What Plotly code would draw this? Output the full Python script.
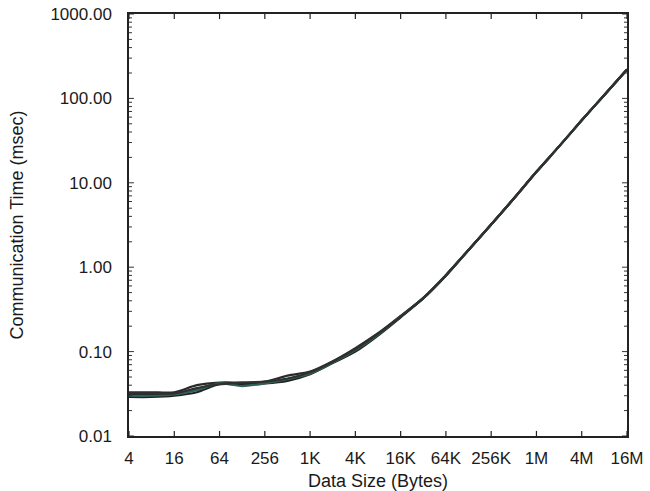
import plotly.graph_objects as go

# Message sizes in bytes (powers of two from 4 B to 16 MB)
sizes = [4, 8, 16, 32, 64, 128, 256, 512, 1024, 2048, 4096, 8192, 16384,
         32768, 65536, 131072, 262144, 524288, 1048576, 2097152, 4194304,
         8388608, 16777216]

# Measured communication times (msec) for several runs
run_a = [0.031, 0.031, 0.031, 0.036, 0.042, 0.042, 0.043, 0.047, 0.056, 0.075,
         0.105, 0.160, 0.26, 0.43, 0.80, 1.6, 3.2, 6.5, 13.5, 27, 55, 110, 220]
run_b = [0.033, 0.033, 0.033, 0.040, 0.043, 0.043, 0.044, 0.052, 0.058, 0.077,
         0.110, 0.165, 0.265, 0.435, 0.81, 1.6, 3.2, 6.5, 13.5, 27, 55, 110, 220]
run_c = [0.029, 0.029, 0.030, 0.033, 0.041, 0.041, 0.042, 0.045, 0.054, 0.073,
         0.100, 0.155, 0.255, 0.425, 0.79, 1.6, 3.2, 6.5, 13.5, 27, 55, 110, 220]
run_d = [0.030, 0.030, 0.031, 0.035, 0.042, 0.039, 0.042, 0.047, 0.055, 0.074,
         0.104, 0.158, 0.26, 0.43, 0.80, 1.6, 3.2, 6.5, 13.5, 27, 55, 110, 220]
run_e = [0.032, 0.032, 0.032, 0.037, 0.041, 0.043, 0.044, 0.048, 0.057, 0.076,
         0.107, 0.162, 0.26, 0.43, 0.80, 1.6, 3.2, 6.5, 13.5, 27, 55, 110, 220]

runs = [run_a, run_b, run_c, run_d, run_e]
colors = ["#1a1a1a", "#2a2a2a", "#222222", "#2f5f58", "#303030"]

x_tickvals = [4, 16, 64, 256, 1024, 4096, 16384, 65536, 262144, 1048576,
              4194304, 16777216]
x_ticktext = ["4", "16", "64", "256", "1K", "4K", "16K", "64K", "256K", "1M",
              "4M", "16M"]
y_major = [0.01, 0.1, 1, 10, 100, 1000]
# minor ticks at 2..9 within each decade of the time axis
y_minor = [m * 10.0 ** e for e in range(-2, 3) for m in range(2, 10)]

fig = go.Figure()
for vals, col in zip(runs, colors):
    fig.add_trace(go.Scatter(
        x=sizes, y=vals, mode="lines",
        line=dict(color=col, width=2.2, shape="spline", smoothing=0.8),
        showlegend=False, hoverinfo="skip"))

# inward tick marks on all four sides of the frame
tick_line = dict(color="#222", width=1.2)
x_len, y_len, y_minor_len = 0.012, 0.010, 0.006
for v in x_tickvals:
    for y0, y1 in ((0, x_len), (1, 1 - x_len)):
        fig.add_shape(type="line", xref="x", yref="paper", x0=v, x1=v,
                      y0=y0, y1=y1, line=tick_line, layer="above")
for vals, ln in ((y_major, y_len), (y_minor, y_minor_len)):
    for v in vals:
        for x0, x1 in ((0, ln), (1, 1 - ln)):
            fig.add_shape(type="line", xref="paper", yref="y", x0=x0, x1=x1,
                          y0=v, y1=v, line=dict(color="#333", width=1),
                          layer="above")

family = "Liberation Sans, Arial, sans-serif"
tick_font = dict(family=family, size=17, color="#1a1a1a")
title_font = dict(family=family, size=18, color="#1a1a1a")

fig.update_layout(
    template="none",
    width=650, height=491,
    margin=dict(l=129, r=23, t=14, b=55),
    paper_bgcolor="white", plot_bgcolor="white",
    font=tick_font,
)
fig.update_xaxes(
    type="log", range=[0.602, 7.2248], automargin=False,
    tickmode="array", tickvals=x_tickvals, ticktext=x_ticktext,
    tickfont=tick_font, ticklabelstandoff=6, ticks="",
    showline=True, linecolor="#222", linewidth=1.5, mirror=True,
    showgrid=False, zeroline=False,
    title=dict(text="Data Size (Bytes)", standoff=10, font=title_font),
)
fig.update_yaxes(
    type="log", range=[-2, 3], dtick=1, tickformat=".2f", automargin=False,
    tickfont=tick_font, ticklabelstandoff=12, ticks="",
    showline=True, linecolor="#222", linewidth=1.5, mirror=True,
    showgrid=False, zeroline=False,
    title=dict(text="Communication Time (msec)", standoff=22, font=title_font),
)

fig.write_html("out.html")
